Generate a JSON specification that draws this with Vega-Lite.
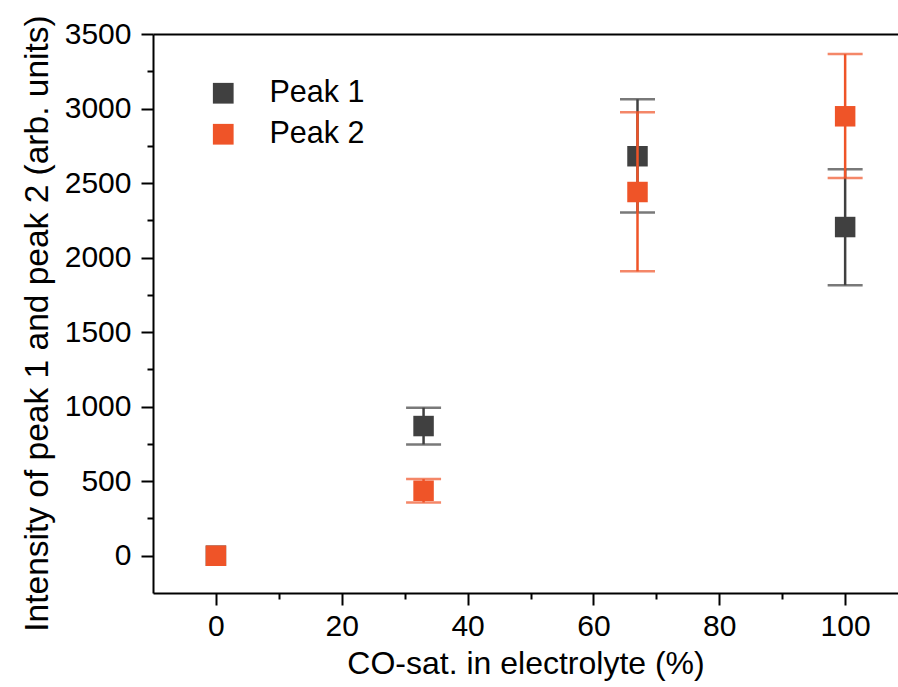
{
  "$schema": "https://vega.github.io/schema/vega-lite/v6.json",
  "autosize": {"type": "none"},
  "width": 745,
  "height": 559,
  "padding": {"left": 153, "top": 34, "right": 0, "bottom": 94},
  "background": "white",
  "config": {
    "view": {"stroke": null},
    "font": "Liberation Sans",
    "axis": {
      "domainColor": "black", "domainWidth": 2, "tickColor": "black", "tickWidth": 2,
      "labelColor": "black", "labelFont": "Liberation Sans", "labelFontSize": 30,
      "titleFont": "Liberation Sans", "titleFontSize": 30, "titleFontWeight": "normal", "titleColor": "black",
      "grid": false
    },
    "legend": {
      "orient": "none", "legendX": 55, "legendY": 44, "padding": 0,
      "labelFont": "Liberation Sans", "labelFontSize": 30.5, "labelColor": "black",
      "symbolType": "square", "symbolSize": 430, "symbolStrokeWidth": 0,
      "labelOffset": 31, "rowPadding": 10, "title": null
    }
  },
  "data": {
    "values": [
      {"series": "Peak 1", "x": 0, "y": 0, "lo": null, "hi": null},
      {"series": "Peak 1", "x": 33, "y": 870, "lo": 747, "hi": 993},
      {"series": "Peak 1", "x": 67, "y": 2680, "lo": 2302, "hi": 3062},
      {"series": "Peak 1", "x": 100, "y": 2205, "lo": 1815, "hi": 2593},
      {"series": "Peak 2", "x": 0, "y": 0, "lo": null, "hi": null},
      {"series": "Peak 2", "x": 33, "y": 436, "lo": 357, "hi": 514},
      {"series": "Peak 2", "x": 67, "y": 2440, "lo": 1908, "hi": 2975},
      {"series": "Peak 2", "x": 100, "y": 2948, "lo": 2534, "hi": 3365}
    ]
  },
  "resolve": {"axis": {"x": "independent", "y": "independent"}},
  "layer": [
    {
      "transform": [{"filter": "datum.series === 'Peak 1' && datum.lo != null"}],
      "mark": {"type": "errorbar", "thickness": 2.5, "ticks": {"size": 35, "thickness": 2.5}},
      "encoding": {
        "x": {"field": "x", "type": "quantitative", "scale": {"domain": [-10, 108.4], "nice": false, "zero": false},
          "axis": {"orient": "bottom", "values": [0, 20, 40, 60, 80, 100], "format": "d", "tickSize": 12, "labelPadding": 6, "title": "CO-sat. in electrolyte (%)", "titleFontSize": 32, "titlePadding": 7}},
        "y": {"field": "lo", "type": "quantitative", "scale": {"domain": [-250, 3500], "nice": false, "zero": false},
          "axis": {"orient": "left", "values": [0, 500, 1000, 1500, 2000, 2500, 3000, 3500], "format": "d", "tickSize": 12, "labelPadding": 10, "title": "Intensity of peak 1 and peak 2 (arb. units)", "titleFontSize": 33.5, "titleY": 289, "titlePadding": 10}},
        "y2": {"field": "hi"},
        "color": {"value": "#404040"}
      }
    },
    {
      "transform": [{"filter": "datum.series === 'Peak 1'"}],
      "mark": {"type": "point", "shape": "square", "filled": true, "size": 420, "opacity": 1},
      "encoding": {
        "x": {"field": "x", "type": "quantitative", "axis": null},
        "y": {"field": "y", "type": "quantitative", "axis": null},
        "color": {"field": "series", "type": "nominal", "scale": {"domain": ["Peak 1", "Peak 2"], "range": ["#404040", "#EF5428"]}, "legend": {"symbolType": "square"}}
      }
    },
    {
      "transform": [{"filter": "datum.series === 'Peak 2' && datum.lo != null"}],
      "mark": {"type": "errorbar", "thickness": 2.5, "ticks": {"size": 35, "thickness": 2.5}},
      "encoding": {
        "x": {"field": "x", "type": "quantitative", "axis": null},
        "y": {"field": "lo", "type": "quantitative", "axis": null},
        "y2": {"field": "hi"},
        "color": {"value": "#EF5428"}
      }
    },
    {
      "transform": [{"filter": "datum.series === 'Peak 2'"}],
      "mark": {"type": "point", "shape": "square", "filled": true, "size": 420, "opacity": 1},
      "encoding": {
        "x": {"field": "x", "type": "quantitative", "axis": null},
        "y": {"field": "y", "type": "quantitative", "axis": null},
        "color": {"field": "series", "type": "nominal"}
      }
    },
    {
      "mark": {"type": "point", "opacity": 0},
      "encoding": {
        "x": {"field": "x", "type": "quantitative",
          "axis": {"orient": "bottom", "values": [10, 30, 50, 70, 90], "tickSize": 6, "labels": false, "domain": false, "title": null}},
        "y": {"field": "y", "type": "quantitative",
          "axis": {"orient": "left", "values": [250, 750, 1250, 1750, 2250, 2750, 3250], "tickSize": 6, "labels": false, "domain": false, "title": null}}
      }
    },
    {
      "mark": {"type": "point", "opacity": 0},
      "encoding": {
        "x": {"field": "x", "type": "quantitative",
          "axis": {"orient": "top", "ticks": false, "labels": false, "domain": true, "title": null}}
      }
    }
  ]
}
